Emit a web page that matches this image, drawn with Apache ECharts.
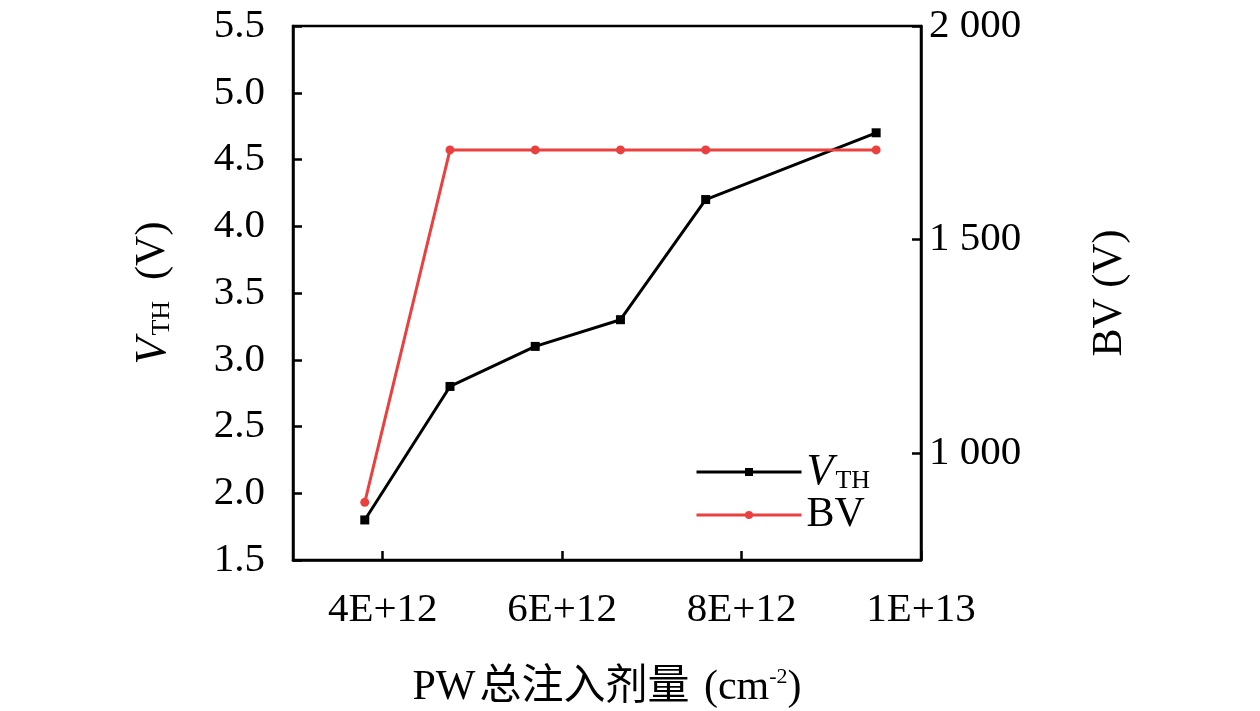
<!DOCTYPE html>
<html><head><meta charset="utf-8">
<script src="https://cdn.jsdelivr.net/npm/echarts@6/dist/echarts.min.js"></script>
<style>html,body{margin:0;padding:0;background:#fff}#c{width:1260px;height:711px}</style>
</head><body><div id="c"></div>
<script>
const doseX = [3.8e12, 4.75e12, 5.7e12, 6.65e12, 7.6e12, 9.5e12];
const vth = [1.8, 2.8, 3.1, 3.3, 4.2, 4.7];
const bv = [885, 1710, 1710, 1710, 1710, 1710];
const xTickValues = [4e12, 6e12, 8e12, 1e13];
const xTickLabels = ['4E+12', '6E+12', '8E+12', '1E+13'];
const bvTickValues = [1000, 1500, 2000];
const bvTickLabels = ['1 000', '1 500', '2 000'];

const serif = '"Liberation Serif", "DejaVu Serif", "Noto Sans CJK SC", serif';
const FS = 41;
const richV = {
  v: {fontFamily: serif, fontSize: 44, fontStyle: 'italic', color: '#000', lineHeight: 44},
  s: {fontFamily: serif, fontSize: 26, color: '#000', verticalAlign: 'bottom', lineHeight: 26, padding: [34, 0, 0, 2]},
  n: {fontFamily: serif, fontSize: 42, color: '#000', lineHeight: 44}
};
const chart = echarts.init(document.getElementById('c'));
chart.setOption({
  animation: false,
  backgroundColor: '#fff',
  grid: {left: 293, right: 339, top: 26, bottom: 151, show: true, borderColor: '#000', borderWidth: 2.5,
         containLabel: false, outerBoundsMode: 'none'},
  legend: [
    {data: ['VTH'], left: 690, top: 429, itemWidth: 105, itemHeight: 10, lineStyle: {width: 3},
     formatter: () => '{v|V}{s|TH}', textStyle: {rich: richV}},
    {data: ['BV'], left: 690, top: 489, itemWidth: 105, itemHeight: 10, lineStyle: {width: 3},
     textStyle: {fontFamily: serif, fontSize: 42, color: '#000'}}
  ],
  xAxis: {
    type: 'value', min: 3e12, max: 1e13,
    axisLine: {show: true, lineStyle: {color: '#000', width: 2.5}},
    splitLine: {show: false},
    axisTick: {show: true, inside: true, length: 9, lineStyle: {color: '#000', width: 2.5}, customValues: xTickValues},
    axisLabel: {customValues: xTickValues, margin: 30, fontFamily: serif, fontSize: FS, color: '#000',
      formatter: v => xTickLabels[xTickValues.indexOf(v)] || ''},
    name: '{n|PW}{c|总注入剂量} {n|(cm}{sup|-2}{n|)}', nameLocation: 'middle', nameGap: 106,
    nameTextStyle: {fontFamily: serif, fontSize: 42, color: '#000',
      rich: {n: {fontFamily: serif, fontSize: 42, color: '#000', lineHeight: 44},
             c: {fontFamily: serif, fontSize: 42, color: '#000', lineHeight: 44, padding: [0, 4, 0, 4]},
             sup: {fontFamily: serif, fontSize: 22, color: '#000', verticalAlign: 'top', lineHeight: 22, padding: [0, 0, 24, 0]}}}
  },
  yAxis: [
    {
      type: 'value', min: 1.5, max: 5.5, interval: 0.5,
      axisLine: {show: true, lineStyle: {color: '#000', width: 2.5}},
      splitLine: {show: false},
      axisTick: {show: true, inside: true, length: 9, lineStyle: {color: '#000', width: 2.5}},
      axisLabel: {margin: 28, fontFamily: serif, fontSize: FS, color: '#000', formatter: v => v.toFixed(1)},
      name: '{v|V}{s|TH}{n|  (V)}', nameLocation: 'middle', nameRotate: 90, nameGap: 118,
      nameTextStyle: {rich: richV}
    },
    {
      type: 'value', min: 750, max: 2000, position: 'right',
      axisLine: {show: true, lineStyle: {color: '#000', width: 2.5}},
      splitLine: {show: false},
      axisTick: {show: true, inside: true, length: 9, lineStyle: {color: '#000', width: 2.5}, customValues: bvTickValues},
      axisLabel: {customValues: bvTickValues, margin: 8, fontFamily: serif, fontSize: FS, color: '#000',
        formatter: v => bvTickLabels[bvTickValues.indexOf(v)] || ''},
      name: 'BV (V)', nameLocation: 'middle', nameRotate: 90, nameGap: 168,
      nameTextStyle: {fontFamily: serif, fontSize: 42, color: '#000'}
    }
  ],
  series: [
    {name: 'VTH', type: 'line', yAxisIndex: 0, data: doseX.map((x, i) => [x, vth[i]]),
     symbol: 'rect', symbolSize: 9, lineStyle: {color: '#000', width: 3}, itemStyle: {color: '#000'}},
    {name: 'BV', type: 'line', yAxisIndex: 1, data: doseX.map((x, i) => [x, bv[i]]),
     symbol: 'circle', symbolSize: 9, lineStyle: {color: '#e8413f', width: 3}, itemStyle: {color: '#e8413f'}}
  ]
});
</script></body></html>
